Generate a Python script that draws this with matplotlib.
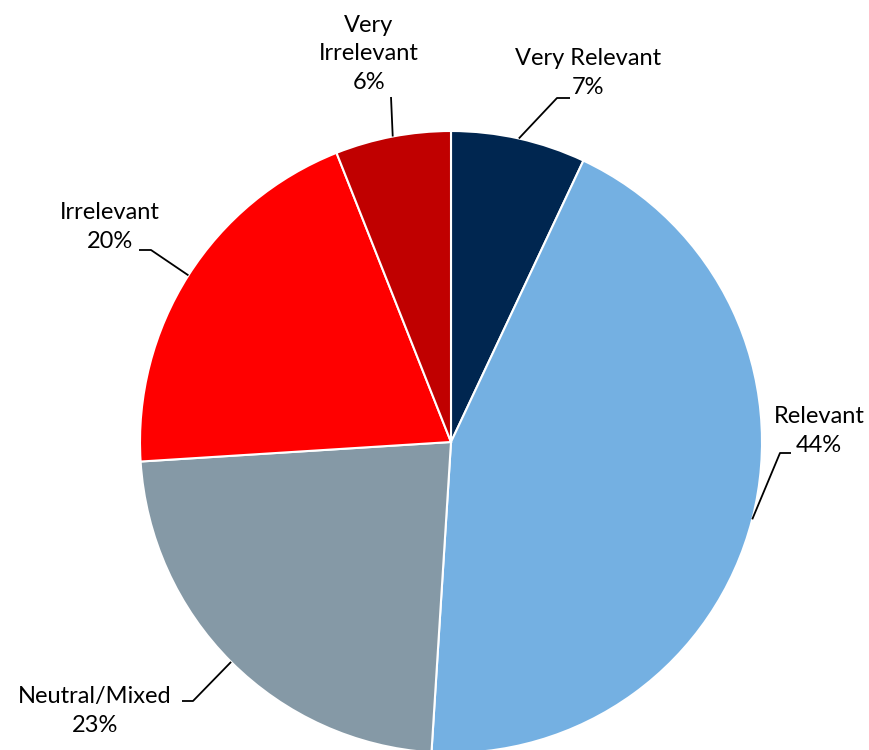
import matplotlib.pyplot as plt
import numpy as np

### Survey responses
categories = ['Very Relevant', 'Relevant', 'Neutral/Mixed', 'Irrelevant', 'Very\nIrrelevant']
shares = [7, 44, 23, 20, 6]
colors = ['#002650', '#74B0E2', '#8599A6', '#FF0000', '#C00000']

### Canvas in pixel units (y measured upward)
W, H = 869, 750
centre = (451, H - 442)
radius = 311

plt.rcParams['font.family'] = ['Lato', 'DejaVu Sans']

fig = plt.figure(figsize=(W/100, H/100), dpi=100)
ax = fig.add_axes([0, 0, 1, 1])

wedges, _ = ax.pie(shares, colors=colors, startangle=90, counterclock=False,
                   center=centre, radius=radius, frame=True,
                   wedgeprops=dict(edgecolor='white', linewidth=1.5))
ax.set_xlim(0, W)
ax.set_ylim(0, H)
ax.set_aspect('equal')
ax.axis('off')

### Label text centre and leader elbow (pixels from top-left)
label_xy = [(588, 73), (819, 431), (95, 711), (110, 227), (369, 54)]
elbow = [[(557, 98), (570, 98)],
         [(780, 453), (791, 453)],
         [(193, 701), (182, 701)],
         [(151, 250), (139, 250)],
         [(391, 97)]]

for w, name, pct, (lx, ly), pts in zip(wedges, categories, shares, label_xy, elbow):
    mid = np.deg2rad((w.theta1 + w.theta2) / 2)
    x0 = centre[0] + radius*np.cos(mid)
    y0 = centre[1] + radius*np.sin(mid)
    xs = [x0] + [p[0] for p in pts]
    ys = [y0] + [H - p[1] for p in pts]
    ax.plot(xs, ys, color='black', linewidth=1.3, solid_capstyle='butt', zorder=3)
    ax.text(lx, H - ly, '%s\n%d%%' % (name, pct), ha='center', va='center',
            fontsize=17, color='black', linespacing=1.45)

plt.savefig('out.png', dpi=100)
